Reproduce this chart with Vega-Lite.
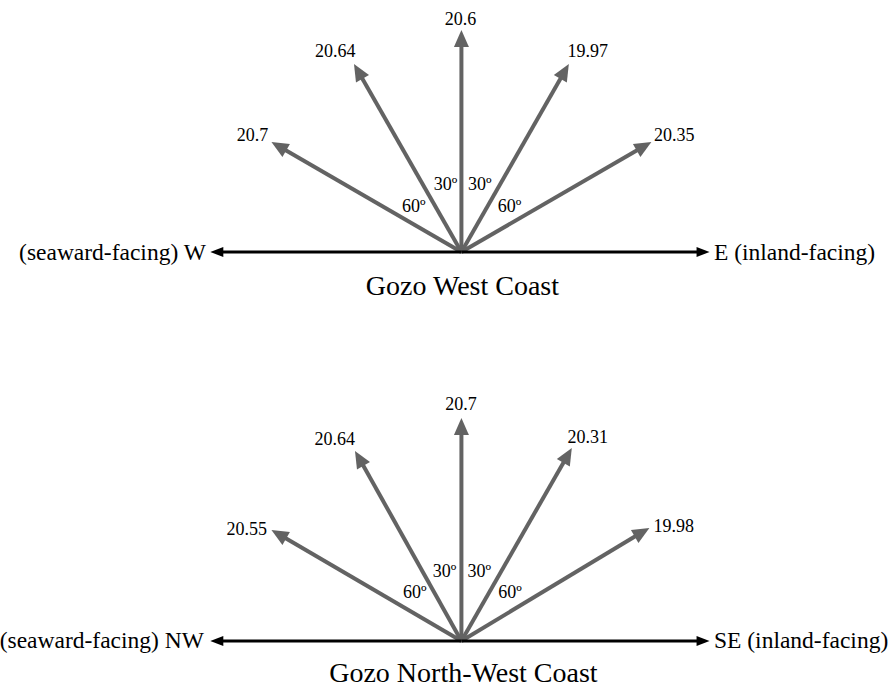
{
  "$schema": "https://vega.github.io/schema/vega-lite/v6.json",
  "width": 888,
  "height": 689,
  "autosize": {"type": "fit", "contains": "padding"},
  "padding": 0,
  "background": "white",
  "config": {"view": {"stroke": null}},
  "datasets": {
    "arrows": [
      {"panel": "West", "kind": "gray", "x0": 459, "y0": 252, "x": 459, "y": 42, "angle": 0},
      {"panel": "West", "kind": "gray", "x0": 459, "y0": 252, "x": 357, "y": 74.4, "angle": -30},
      {"panel": "West", "kind": "gray", "x0": 459, "y0": 252, "x": 278.4, "y": 148, "angle": -60},
      {"panel": "West", "kind": "gray", "x0": 459, "y0": 252, "x": 561, "y": 74.4, "angle": 30},
      {"panel": "West", "kind": "gray", "x0": 459, "y0": 252, "x": 639.6, "y": 148, "angle": 60},
      {"panel": "West", "kind": "black", "x0": 459, "y0": 252, "x": 215, "y": 252, "angle": -90},
      {"panel": "West", "kind": "black", "x0": 459, "y0": 252, "x": 700, "y": 252, "angle": 90},
      {"panel": "NorthWest", "kind": "gray", "x0": 459, "y0": 641, "x": 459, "y": 430, "angle": 0},
      {"panel": "NorthWest", "kind": "gray", "x0": 459, "y0": 641, "x": 358, "y": 461.4, "angle": -30},
      {"panel": "NorthWest", "kind": "gray", "x0": 459, "y0": 641, "x": 278.4, "y": 536, "angle": -60},
      {"panel": "NorthWest", "kind": "gray", "x0": 459, "y0": 641, "x": 564, "y": 458.4, "angle": 30},
      {"panel": "NorthWest", "kind": "gray", "x0": 459, "y0": 641, "x": 637.6, "y": 534, "angle": 60},
      {"panel": "NorthWest", "kind": "black", "x0": 459, "y0": 641, "x": 215, "y": 641, "angle": -90},
      {"panel": "NorthWest", "kind": "black", "x0": 459, "y0": 641, "x": 700, "y": 641, "angle": 90}
    ],
    "labels": [
      {"role": "value", "x": 458, "y": 25, "text": "20.6"},
      {"role": "value", "x": 332, "y": 57, "text": "20.64"},
      {"role": "value", "x": 586, "y": 57, "text": "19.97"},
      {"role": "value", "x": 249, "y": 141, "text": "20.7"},
      {"role": "value", "x": 673, "y": 141, "text": "20.35"},
      {"role": "value", "x": 443, "y": 190, "text": "30º"},
      {"role": "value", "x": 477.5, "y": 190, "text": "30º"},
      {"role": "value", "x": 411, "y": 212, "text": "60º"},
      {"role": "value", "x": 507.5, "y": 212, "text": "60º"},
      {"role": "value", "x": 458.5, "y": 410, "text": "20.7"},
      {"role": "value", "x": 331.5, "y": 445, "text": "20.64"},
      {"role": "value", "x": 586, "y": 443, "text": "20.31"},
      {"role": "value", "x": 243, "y": 535, "text": "20.55"},
      {"role": "value", "x": 672.5, "y": 532, "text": "19.98"},
      {"role": "value", "x": 442, "y": 577, "text": "30º"},
      {"role": "value", "x": 477, "y": 577, "text": "30º"},
      {"role": "value", "x": 412, "y": 598, "text": "60º"},
      {"role": "value", "x": 508, "y": 598, "text": "60º"},
      {"role": "left", "x": 202, "y": 260, "text": "(seaward-facing) W"},
      {"role": "right", "x": 713, "y": 260, "text": "E (inland-facing)"},
      {"role": "left", "x": 200, "y": 648, "text": "(seaward-facing) NW"},
      {"role": "right", "x": 713, "y": 648, "text": "SE (inland-facing)"},
      {"role": "title", "x": 460, "y": 295, "text": "Gozo West Coast"},
      {"role": "title", "x": 461, "y": 682, "text": "Gozo North-West Coast"}
    ]
  },
  "encoding": {
    "x": {"field": "x", "type": "quantitative", "scale": {"domain": [0, 888], "nice": false, "zero": false}, "axis": null},
    "y": {"field": "y", "type": "quantitative", "scale": {"domain": [0, 689], "nice": false, "zero": false, "reverse": true}, "axis": null}
  },
  "layer": [
    {
      "data": {"name": "arrows"},
      "transform": [{"filter": "datum.kind == 'gray'"}],
      "mark": {"type": "rule", "color": "#636363", "strokeWidth": 4},
      "encoding": {
        "x": {"field": "x0", "type": "quantitative", "scale": {"domain": [0, 888], "nice": false, "zero": false}, "axis": null},
        "y": {"field": "y0", "type": "quantitative", "scale": {"domain": [0, 689], "nice": false, "zero": false, "reverse": true}, "axis": null},
        "x2": {"field": "x"},
        "y2": {"field": "y"}
      }
    },
    {
      "data": {"name": "arrows"},
      "transform": [{"filter": "datum.kind == 'black'"}],
      "mark": {"type": "rule", "color": "#000000", "strokeWidth": 3},
      "encoding": {
        "x": {"field": "x0", "type": "quantitative", "scale": {"domain": [0, 888], "nice": false, "zero": false}, "axis": null},
        "y": {"field": "y0", "type": "quantitative", "scale": {"domain": [0, 689], "nice": false, "zero": false, "reverse": true}, "axis": null},
        "x2": {"field": "x"},
        "y2": {"field": "y"}
      }
    },
    {
      "data": {"name": "arrows"},
      "transform": [{"filter": "datum.kind == 'gray'"}],
      "mark": {"type": "point", "shape": "M0,-2.4L1.5,1L-1.5,1Z", "size": 100, "filled": true, "opacity": 1, "color": "#636363", "strokeWidth": 0},
      "encoding": {
        "angle": {"field": "angle", "type": "quantitative", "scale": null}
      }
    },
    {
      "data": {"name": "arrows"},
      "transform": [{"filter": "datum.kind == 'black'"}],
      "mark": {"type": "point", "shape": "M0,-1.7L1,0.9L-1,0.9Z", "size": 100, "filled": true, "opacity": 1, "color": "#000000", "strokeWidth": 0},
      "encoding": {
        "angle": {"field": "angle", "type": "quantitative", "scale": null}
      }
    },
    {
      "data": {"name": "labels"},
      "transform": [{"filter": "datum.role == 'value'"}],
      "mark": {"type": "text", "font": "Liberation Serif", "fontSize": 18, "align": "center", "baseline": "alphabetic", "color": "#000000"},
      "encoding": {"text": {"field": "text"}}
    },
    {
      "data": {"name": "labels"},
      "transform": [{"filter": "datum.role == 'left'"}],
      "mark": {"type": "text", "font": "Liberation Serif", "fontSize": 23.5, "align": "right", "baseline": "alphabetic", "color": "#000000"},
      "encoding": {"text": {"field": "text"}}
    },
    {
      "data": {"name": "labels"},
      "transform": [{"filter": "datum.role == 'right'"}],
      "mark": {"type": "text", "font": "Liberation Serif", "fontSize": 23.5, "align": "left", "baseline": "alphabetic", "color": "#000000"},
      "encoding": {"text": {"field": "text"}}
    },
    {
      "data": {"name": "labels"},
      "transform": [{"filter": "datum.role == 'title'"}],
      "mark": {"type": "text", "font": "Liberation Serif", "fontSize": 28, "align": "center", "baseline": "alphabetic", "color": "#000000"},
      "encoding": {"text": {"field": "text"}}
    }
  ]
}
